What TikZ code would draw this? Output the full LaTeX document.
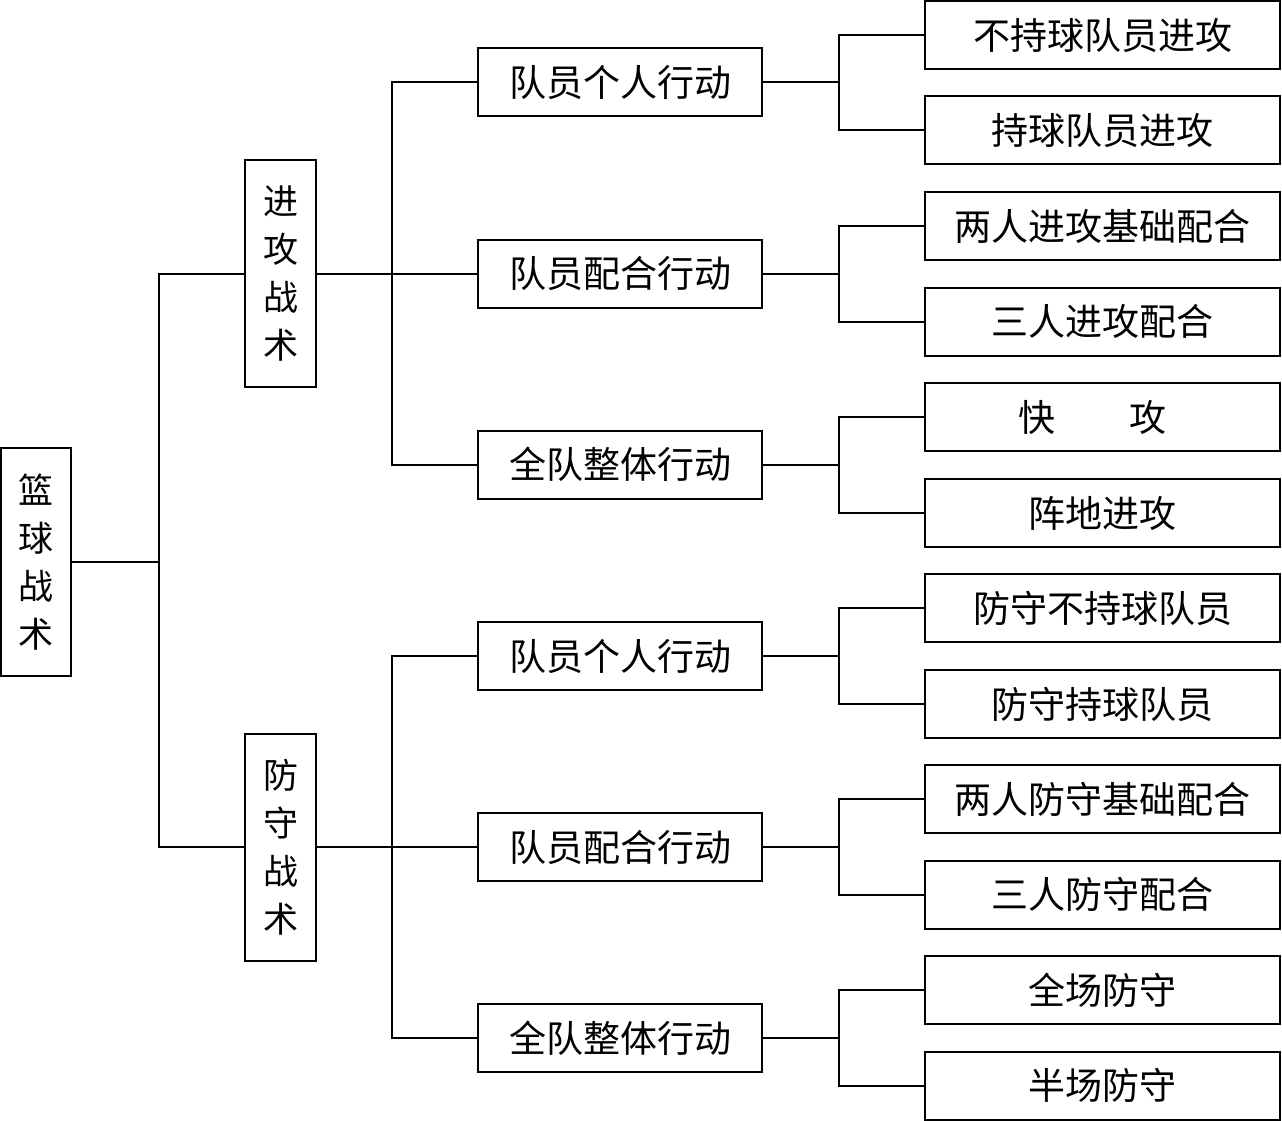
\documentclass[tikz,border=0pt]{standalone}
\usepackage{fontspec}
\newfontfamily\cjk{Noto Sans CJK SC}
\begin{document}
\begin{tikzpicture}[x=1pt,y=-1pt,line width=2pt,
  base/.style={draw,inner sep=0pt,font=\cjk\fontsize{37}{48}\selectfont,align=center},
  vbox/.style={base,font=\cjk\fontsize{35}{48}\selectfont,minimum width=71pt,minimum height=227pt},
  midbox/.style={base,minimum width=284pt,minimum height=68pt},
  leafbox/.style={base,minimum width=355pt,minimum height=68pt},
  link/.style={line width=2pt}]
\useasboundingbox (0,0) rectangle (1282,1121);
\node[vbox,minimum width=70pt,minimum height=228pt] (root) at (36,562) {篮\\球\\战\\术};
\node[vbox] (att) at (280.5,273.5) {进\\攻\\战\\术};
\node[vbox] (def) at (280.5,847) {防\\守\\战\\术};
\node[midbox] (a1) at (620,82) {队员个人行动};
\node[midbox] (a2) at (620,273.5) {队员配合行动};
\node[midbox] (a3) at (620,464.5) {全队整体行动};
\node[midbox] (d1) at (620,656) {队员个人行动};
\node[midbox] (d2) at (620,847) {队员配合行动};
\node[midbox] (d3) at (620,1038) {全队整体行动};
\node[leafbox] (l1) at (1102.5,35) {不持球队员进攻};
\node[leafbox] (l2) at (1102.5,130) {持球队员进攻};
\node[leafbox] (l3) at (1102.5,226) {两人进攻基础配合};
\node[leafbox] (l4) at (1102.5,321.5) {三人进攻配合};
\node[leafbox] (l5) at (1102.5,417) {};
\node[font=\cjk\fontsize{37}{48}\selectfont,inner sep=0pt] (l5t) at ([xshift=-10pt]l5.center) {快\hspace{2em}攻};
\node[leafbox] (l6) at (1102.5,513) {阵地进攻};
\node[leafbox] (l7) at (1102.5,608) {防守不持球队员};
\node[leafbox] (l8) at (1102.5,704) {防守持球队员};
\node[leafbox] (l9) at (1102.5,799) {两人防守基础配合};
\node[leafbox] (l10) at (1102.5,894.5) {三人防守配合};
\node[leafbox] (l11) at (1102.5,990) {全场防守};
\node[leafbox] (l12) at (1102.5,1085.5) {半场防守};
% root branch
\draw[link] (root.east) -- ++(87,0) coordinate (rj);
\draw[link] (att.west) -| (rj) |- (def.west);
% level 1 branches
\draw[link] (att.east) -- ++(75,0) coordinate (aj);
\draw[link] (a1.west) -| (aj) |- (a3.west);
\draw[link] (aj) -- (a2.west);
\draw[link] (def.east) -- ++(75,0) coordinate (dj);
\draw[link] (d1.west) -| (dj) |- (d3.west);
\draw[link] (dj) -- (d2.west);
% level 2 branches
\foreach \p/\c/\d in {a1/l1/l2,a2/l3/l4,a3/l5/l6,d1/l7/l8,d2/l9/l10,d3/l11/l12}{
  \draw[link] (\p.east) -- ++(76,0) coordinate (j\p);
  \draw[link] (\c.west) -| (j\p) |- (\d.west);
}
\end{tikzpicture}
\end{document}
